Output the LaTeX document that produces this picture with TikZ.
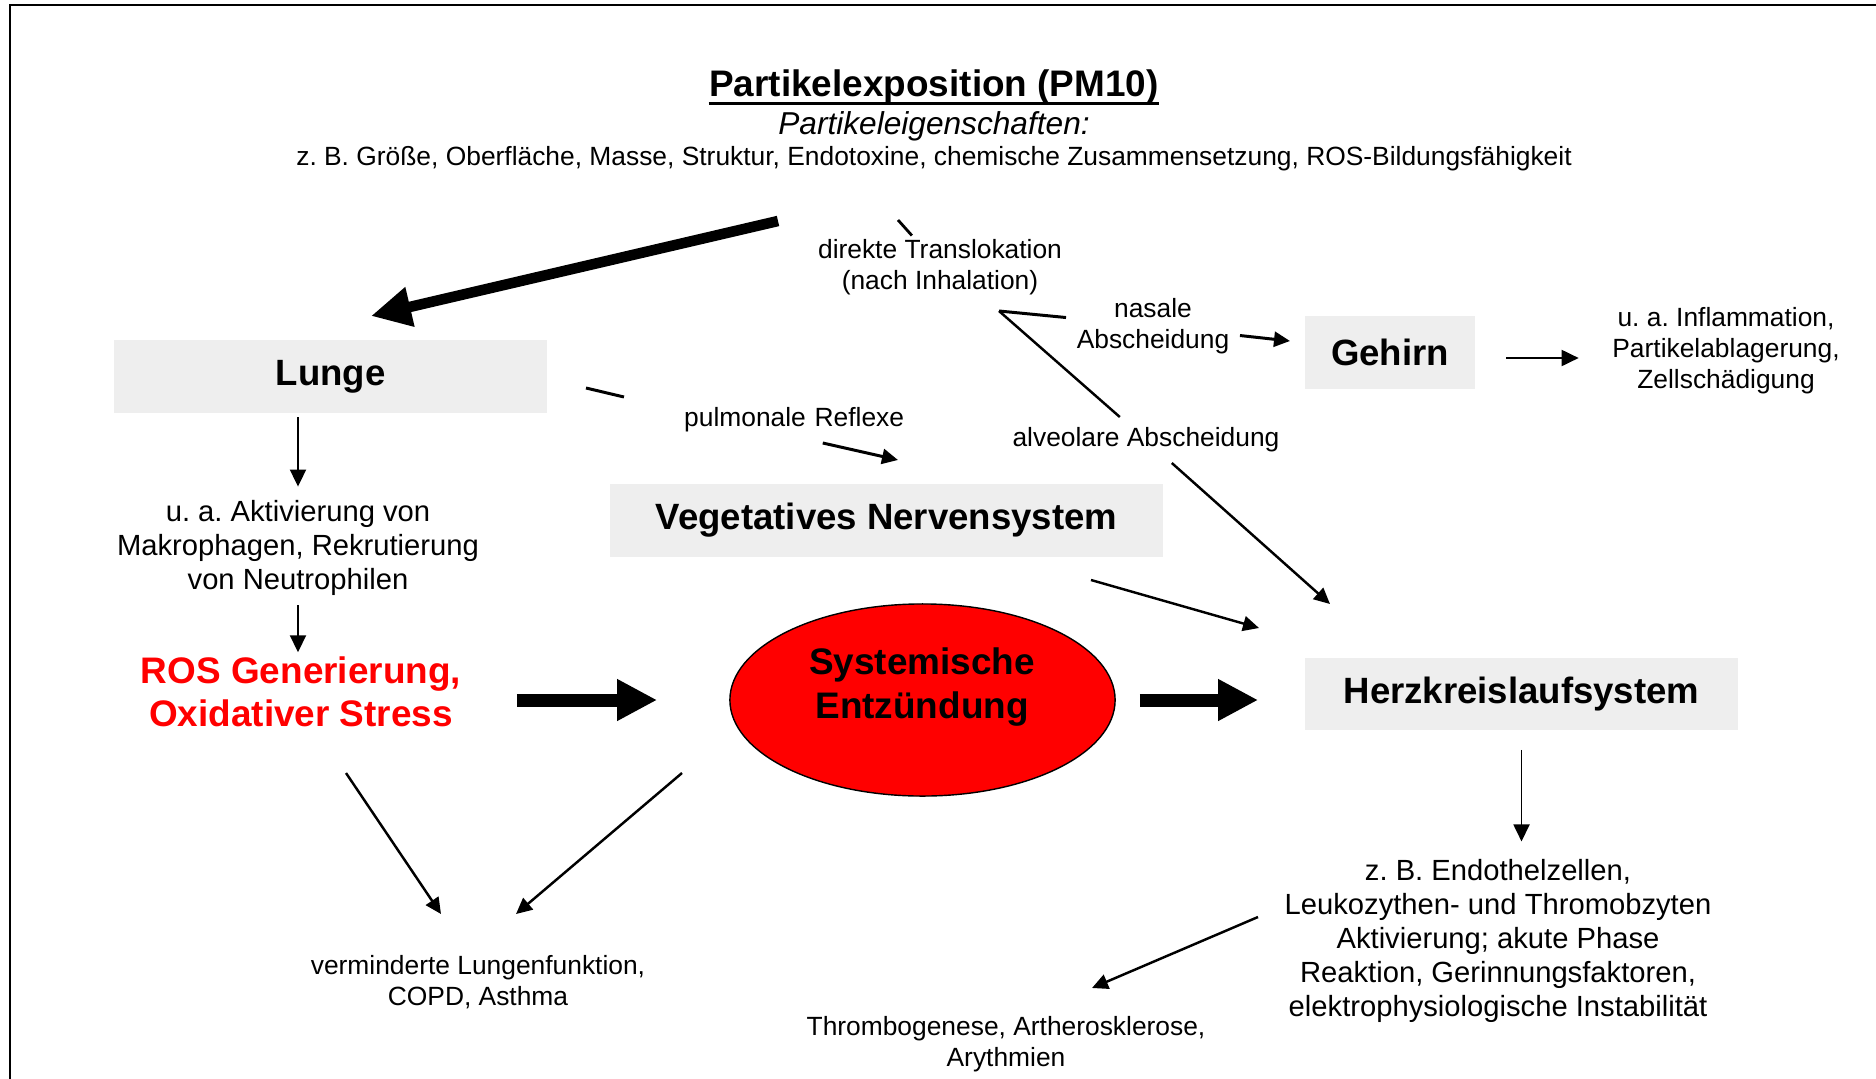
\documentclass[tikz,border=0pt]{standalone}
\usepackage{fontspec}
\setmainfont{Liberation Sans}
\usepackage{xcolor}
\usetikzlibrary{shapes.geometric, arrows.meta}
\definecolor{boxgray}{RGB}{238,238,238}
\definecolor{alarmred}{RGB}{255,0,0}
\frenchspacing

\begin{document}
\begin{tikzpicture}[x=0.01cm, y=-0.01cm,
    organ/.style={fill=boxgray, minimum width=#1, minimum height=0.725cm, inner sep=0pt,
      font=\bfseries\fontsize{10.4}{12}\selectfont},
    note/.style={align=center, inner sep=0pt, font=\fontsize{8.3}{9.7}\selectfont},
    small/.style={align=center, inner sep=0pt, font=\fontsize{7.5}{8.8}\selectfont},
    lbl/.style={align=center, inner sep=0.1cm, font=\fontsize{7.5}{8.8}\selectfont},
    thinarr/.style={line width=0.55pt, -{Triangle[length=1.7mm, width=1.6mm]}},
    diagarr/.style={line width=0.7pt, -{Triangle[length=1.6mm, width=1.5mm]}},
    midarr/.style={line width=0.85pt, -{Triangle[length=1.6mm, width=1.5mm]}},
    fatarr/.style={line width=3.7pt, -{Triangle[length=4mm, width=3.9mm]}}]
  \useasboundingbox (0,0) rectangle (1876,1079);
  % frame, only top and left edge
  \draw[line width=0.6pt] (10,1079) -- (10,5) -- (1876,5);

  % exposure header
  \node[inner sep=0pt, font=\bfseries\fontsize{10.5}{12}\selectfont] (title) at (934,87) {Partikelexposition (PM10)};
  \draw[line width=1pt] ([yshift=-2pt]title.base west) -- ([yshift=-2pt]title.base east);
  \node[inner sep=0pt, font=\itshape\fontsize{9}{11}\selectfont] (props) at (934,126) {Partikeleigenschaften:};
  \node[small] (propslist) at (934,159) {z. B. Größe, Oberfläche, Masse, Struktur, Endotoxine, chemische Zusammensetzung, ROS-Bildungsfähigkeit};

  % organ boxes
  \node[organ=4.33cm] (lunge) at (330.5,376.5) {Lunge};
  \node[organ=5.53cm] (veg) at (886.5,520.5) {Vegetatives Nervensystem};
  \node[organ=1.69cm] (gehirn) at (1390,352.5) {Gehirn};
  \node[organ=4.33cm] (herz) at (1521.5,694) {Herzkreislaufsystem};

  \node[ellipse, draw, line width=0.4pt, fill=alarmred, minimum width=3.85cm, minimum height=1.92cm, inner sep=0pt] (sys) at (922.5,700) {};
  \node[align=center, inner sep=0pt, font=\bfseries\fontsize{10.5}{12.5}\selectfont] (systxt) at (922,687) {Systemische\\Entzündung};

  % effects
  \node[note] (aktiv) at (298,548) {u. a. Aktivierung von\\Makrophagen, Rekrutierung\\von Neutrophilen};
  \node[align=center, inner sep=0pt, text=alarmred, font=\bfseries\fontsize{10.5}{12.2}\selectfont] (ros) at (301,692) {ROS Generierung,\\Oxidativer Stress};
  \node[small] (lungfkt) at (478,982) {verminderte Lungenfunktion,\\COPD, Asthma};
  \node[small] (infl) at (1726,351) {u. a. Inflammation,\\Partikelablagerung,\\Zellschädigung};
  \node[note] (endo) at (1498,941) {z. B. Endothelzellen,\\Leukozythen- und Thromobzyten\\Aktivierung; akute Phase\\Reaktion, Gerinnungsfaktoren,\\elektrophysiologische Instabilität};
  \node[small] (thrombo) at (1006,1044) {Thrombogenese, Artherosklerose,\\Arythmien};

  % path labels
  \node[lbl, inner ysep=0.03cm] (transl) at (940,267) {direkte Translokation\\(nach Inhalation)};
  \node[lbl] (nasal) at (1153,326) {nasale\\Abscheidung};
  \node[lbl] (alveo) at (1146,440) {alveolare Abscheidung};
  \node[lbl, inner xsep=0pt, text width=3.66cm, align=right] (pulm) at (721,420) {pulmonale Reflexe};

  % free ends
  \coordinate (pstart) at (778,221);
  \coordinate (ptip) at (371,316);
  \coordinate (tstart) at (898,220);
  \coordinate (fork) at (999,311);
  \coordinate (alvtip) at (1330,604);
  \coordinate (ntip) at (1290,341);
  \coordinate (pulstart) at (586,388);
  \coordinate (pultip) at (898,460);
  \coordinate (vegout) at (1091,580);
  \coordinate (vegtip) at (1259,628);
  \coordinate (rosout) at (346,773);
  \coordinate (rostip) at (441,914);
  \coordinate (sysout) at (682,773);
  \coordinate (systip) at (516,914);
  \coordinate (endoout) at (1258,917);
  \coordinate (endotip) at (1092,988);

  % connectors
  \draw[line width=3pt, -{Triangle[length=4mm, width=3.8mm]}] (pstart) -- (ptip);
  \draw[line width=0.8pt] (tstart) -- (transl);
  \draw[diagarr] (fork) -- (alveo) -- (alvtip);
  \draw[midarr] (fork) -- (nasal) -- (ntip);
  \draw[midarr] (pulstart) -- (pulm) -- (pultip);
  \draw[thinarr, shorten <=0.31cm, shorten >=0.33cm] ([yshift=-0.055cm]gehirn.east) -- ([yshift=-0.055cm]gehirn.east -| infl.west);
  \draw[thinarr, shorten <=0.04cm, shorten >=0.13cm] (lunge.south -| aktiv.north) -- (aktiv.north);
  \draw[thinarr, shorten <=0.09cm, shorten >=0.04cm] (aktiv.south) -- (aktiv.south |- ros.north);
  \draw[fatarr, shorten <=0.55cm, shorten >=0.72cm] (ros.east |- sys.west) -- (sys.west);
  \draw[fatarr, shorten <=0.24cm, shorten >=0.46cm] (sys.east) -- (sys.east -| herz.west);
  \draw[diagarr] (vegout) -- (vegtip);
  \draw[thinarr, shorten <=0.19cm, shorten >=0.17cm] (herz.south) -- (herz.south |- endo.north);
  \draw[diagarr] (rosout) -- (rostip);
  \draw[diagarr] (sysout) -- (systip);
  \draw[diagarr] (endoout) -- (endotip);
\end{tikzpicture}
\end{document}
